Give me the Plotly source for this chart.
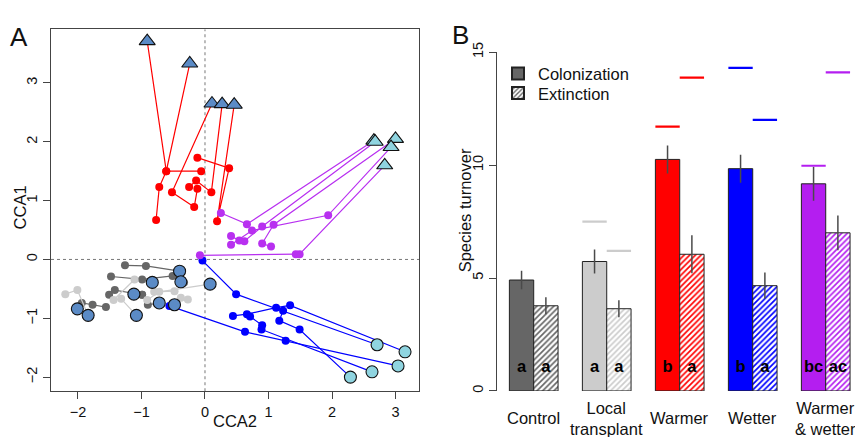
import plotly.graph_objects as go

FONT = "Liberation Sans, Arial, sans-serif"
W, H = 855, 437

# ---------------- Panel A data (CCA trajectories) ----------------
# First point of each trajectory = end marker (triangle / big circle), the rest = yearly dots
warmer_x = [[-0.91, -0.61, -0.06], [-0.24, -0.61, -0.72, -0.77], [0.11, -0.52, -0.17, -0.12],
            [0.27, 0.10, -0.14, -0.25], [0.46, 0.19, 0.38, -0.12]]
warmer_y = [[3.71, 1.50, 1.50], [3.33, 1.50, 1.23, 0.67], [2.65, 1.14, 0.89, 1.20],
            [2.64, 1.14, 1.34, 1.23], [2.63, 0.65, 1.55, 1.73]]

ww_x = [[2.66, 0.66, 0.25], [2.68, 0.90, 0.62, 0.54, 0.41], [3.00, 1.08, 0.90, 1.04],
        [2.93, 1.94, 0.74, 0.41], [2.83, 1.49, 1.43, -0.08]]
ww_y = [[2.02, 0.60, 0.79], [2.00, 0.56, 0.31, 0.32, 0.40], [2.05, 0.59, 0.27, 0.22],
        [1.91, 0.75, 0.49, 0.25], [1.60, 0.09, 0.09, 0.07]]

wetter_x = [[2.71, 0.49, -0.04], [3.15, 1.34, 1.12, 0.66, 0.44], [2.29, 1.49, 1.17, 1.23],
            [2.63, 0.89, 0.90, 0.71], [3.04, 1.27, 0.63, -0.56]]
wetter_y = [[-1.45, -0.59, -0.02], [-1.57, -0.78, -0.82, -0.93, -0.96], [-2.00, -1.19, -1.04, -0.87],
            [-1.91, -1.19, -1.12, -0.97], [-1.81, -1.38, -1.23, -0.79]]

control_x = [[-0.40, -0.93, -1.26], [-0.38, -0.33, -0.51, -0.99, -1.48], [-1.12, -0.99, -1.42, -1.51],
             [-0.72, -0.90, -0.99], [-2.01, -1.94, -1.77, -1.56]]
control_y = [[-0.20, -0.11, -0.10], [-0.38, -0.39, -0.28, -0.34, -0.29], [-0.59, -0.60, -0.52, -0.60],
             [-0.74, -0.77, -0.60], [-0.84, -0.74, -0.77, -0.81]]

local_x = [[0.08, -0.72, -0.91], [-0.83, -0.80, -0.48], [-0.48, -0.38, -0.27],
           [-1.08, -1.32, -1.44, -1.11], [-1.84, -2.01, -2.20]]
local_y = [[-0.42, -0.55, -0.69], [-0.39, -0.55, -0.54], [-0.77, -0.65, -0.68],
           [-0.95, -0.67, -0.69, -0.34], [-0.95, -0.52, -0.59]]

# ---------------- Panel B data ----------------
categories = ["Control", "Local<br>transplant", "Warmer", "Wetter", "Warmer<br>& wetter"]
colonization = [4.91, 5.73, 10.25, 9.84, 9.17]
colonization_se = [0.41, 0.53, 0.62, 0.62, 0.75]
extinction = [3.77, 3.64, 6.05, 4.66, 7.00]
extinction_se = [0.38, 0.38, 0.84, 0.58, 0.77]
colonization_target = [None, 7.5, 11.7, 14.3, 9.97]
extinction_target = [None, 6.2, 13.87, 12.0, 14.1]
colonization_letters = ["a", "a", "b", "b", "bc"]
extinction_letters = ["a", "a", "a", "a", "ac"]
group_colors = ["#666666", "#cccccc", "#ff0000", "#0000ff", "#b41ef0"]

STEEL = "#5b8bc6"
CYAN = "#8fd4e0"
PURPLE_A = "#b830f0"
ERR = "#4a4a4a"

fig = go.Figure()


def add_group(xs, ys, color, end_symbol, end_color):
    lx, ly, dx, dy, ex, ey = [], [], [], [], [], []
    for tx, ty in zip(xs, ys):
        lx += tx + [None]
        ly += ty + [None]
        dx += tx[1:]
        dy += ty[1:]
        ex.append(tx[0])
        ey.append(ty[0])
    fig.add_trace(go.Scatter(x=lx, y=ly, mode="lines", line=dict(color=color, width=1.2),
                             showlegend=False, hoverinfo="skip", xaxis="x", yaxis="y"))
    fig.add_trace(go.Scatter(x=dx, y=dy, mode="markers", marker=dict(color=color, size=8),
                             showlegend=False, xaxis="x", yaxis="y"))
    return ex, ey, end_symbol, end_color


ends = []
ends.append(add_group(control_x, control_y, "#666666", "circle", STEEL))
ends.append(add_group(local_x, local_y, "#cccccc", "circle", STEEL))
ends.append(add_group(warmer_x, warmer_y, "#ff0000", "triangle-up", STEEL))
ends.append(add_group(wetter_x, wetter_y, "#0000ff", "circle", CYAN))
ends.append(add_group(ww_x, ww_y, PURPLE_A, "triangle-up", CYAN))
for ex, ey, sym, col in ends:
    fig.add_trace(go.Scatter(x=ex, y=ey, mode="markers",
                             marker=dict(symbol=sym, color=col, size=14 if sym != "circle" else 12,
                                         line=dict(color="#111111", width=1.1)),
                             showlegend=False, xaxis="x", yaxis="y"))

# ---------------- Panel B ----------------
idx = list(range(len(categories)))
col_pos = [i - 1 / 6 for i in idx]
ext_pos = [i + 1 / 6 for i in idx]

fig.add_trace(go.Bar(x=col_pos, y=colonization, width=1 / 3,
                     marker=dict(color=group_colors, line=dict(color="#222222", width=1)),
                     error_y=dict(type="data", array=colonization_se, color=ERR, thickness=1.5, width=0),
                     showlegend=False, xaxis="x2", yaxis="y2"))
fig.add_trace(go.Bar(x=ext_pos, y=extinction, width=1 / 3,
                     marker=dict(color="white", line=dict(color="#222222", width=1),
                                 pattern=dict(shape="/", fgcolor=group_colors, bgcolor="white",
                                              size=4, solidity=0.42, fillmode="replace", fgopacity=1)),
                     error_y=dict(type="data", array=extinction_se, color=ERR, thickness=1.5, width=0),
                     showlegend=False, xaxis="x2", yaxis="y2"))

for i in idx:
    for pos, tgt in ((col_pos[i], colonization_target[i]), (ext_pos[i], extinction_target[i])):
        if tgt is None:
            continue
        fig.add_trace(go.Scatter(x=[pos - 1 / 6, pos + 1 / 6], y=[tgt, tgt], mode="lines",
                                 line=dict(color=group_colors[i], width=2.2),
                                 showlegend=False, hoverinfo="skip", xaxis="x2", yaxis="y2"))

LETTER_Y = 1.0
fig.add_trace(go.Scatter(x=col_pos + ext_pos, y=[LETTER_Y] * (2 * len(idx)), mode="text",
                         text=["<b>%s</b>" % t for t in colonization_letters + extinction_letters],
                         textfont=dict(family=FONT, size=16.5, color="black"),
                         showlegend=False, hoverinfo="skip", xaxis="x2", yaxis="y2"))

# legend entries (one legend box each, to control the spacing)
fig.add_trace(go.Bar(x=[None], y=[None], name="Colonization", legend="legend",
                     marker=dict(color="#666666", line=dict(color="#222222", width=1)),
                     xaxis="x2", yaxis="y2"))
fig.add_trace(go.Bar(x=[None], y=[None], name="Extinction", legend="legend2",
                     marker=dict(color="white", line=dict(color="#222222", width=1),
                                 pattern=dict(shape="/", fgcolor="#666666", bgcolor="white",
                                              size=4, solidity=0.42, fillmode="replace", fgopacity=1)),
                     xaxis="x2", yaxis="y2"))

axis_common = dict(showgrid=False, zeroline=False, ticks="outside", ticklen=7,
                   tickcolor="#444444", linecolor="#444444", linewidth=1,
                   tickfont=dict(family=FONT, size=14.5, color="#111111"))

legend_common = dict(x=498 / W, xanchor="left", yanchor="middle",
                     font=dict(family=FONT, size=16.5, color="#111111"),
                     bgcolor="rgba(0,0,0,0)", itemsizing="constant")

fig.update_layout(
    width=W, height=H, margin=dict(l=0, r=0, t=0, b=0),
    paper_bgcolor="white", plot_bgcolor="white",
    font=dict(family=FONT, color="#111111"),
    barmode="overlay",
    xaxis=dict(domain=[51 / W, 419 / W], range=[-2.425, 3.37], tickvals=[-2, -1, 0, 1, 2, 3],
               showline=True, mirror=True, anchor="y", **axis_common),
    yaxis=dict(domain=[45 / H, 417 / H], range=[-2.24, 3.909], tickvals=[-2, -1, 0, 1, 2, 3],
               showline=True, mirror=True, anchor="x", tickangle=-90, **axis_common),
    xaxis2=dict(domain=[496.7 / W, 1.0], range=[-0.507, 4.401], visible=False, anchor="y2"),
    yaxis2=dict(domain=[45.3 / H, 393.7 / H], range=[0, 15], tickvals=[0, 5, 10, 15],
                showline=True, anchor="x2", tickangle=-90, **axis_common),
    legend=dict(y=(H - 65.7) / H, **legend_common),
    legend2=dict(y=(H - 85.7) / H, **legend_common),
    shapes=[
        dict(type="line", xref="x", yref="y domain", x0=0, x1=0, y0=0, y1=1,
             line=dict(color="#777777", width=1, dash="dot"), layer="below"),
        dict(type="line", xref="x domain", yref="y", x0=0, x1=1, y0=0, y1=0,
             line=dict(color="#777777", width=1, dash="dot"), layer="below"),
    ],
)

ann = [
    dict(text="A", x=19 / W, y=(H - 28) / H, font=dict(size=26)),
    dict(text="B", x=460 / W, y=(H - 26) / H, font=dict(size=26)),
    dict(text="CCA2", x=235 / W, y=(H - 423) / H, font=dict(size=16.5)),
    dict(text="CCA1", x=20 / W, y=(H - 203) / H, font=dict(size=16.5), textangle=-90),
    dict(text="Species turnover", x=465 / W, y=(H - 206) / H, font=dict(size=16.5), textangle=-90),
]
for a in ann:
    a.update(xref="paper", yref="paper", showarrow=False, xanchor="center", yanchor="middle")
    a["font"] = dict(family=FONT, color="#111111", **a["font"])
    fig.add_annotation(**a)

for i, c in enumerate(categories):
    fig.add_annotation(text=c, x=i, xref="x2", y=(H - 420) / H, yref="paper", showarrow=False,
                       xanchor="center", yanchor="middle",
                       font=dict(family=FONT, size=16.5, color="#111111"))

fig.write_html("out.html", config={"displayModeBar": False},
               post_script="document.body.style.margin='0px';document.body.style.overflow='hidden';")
